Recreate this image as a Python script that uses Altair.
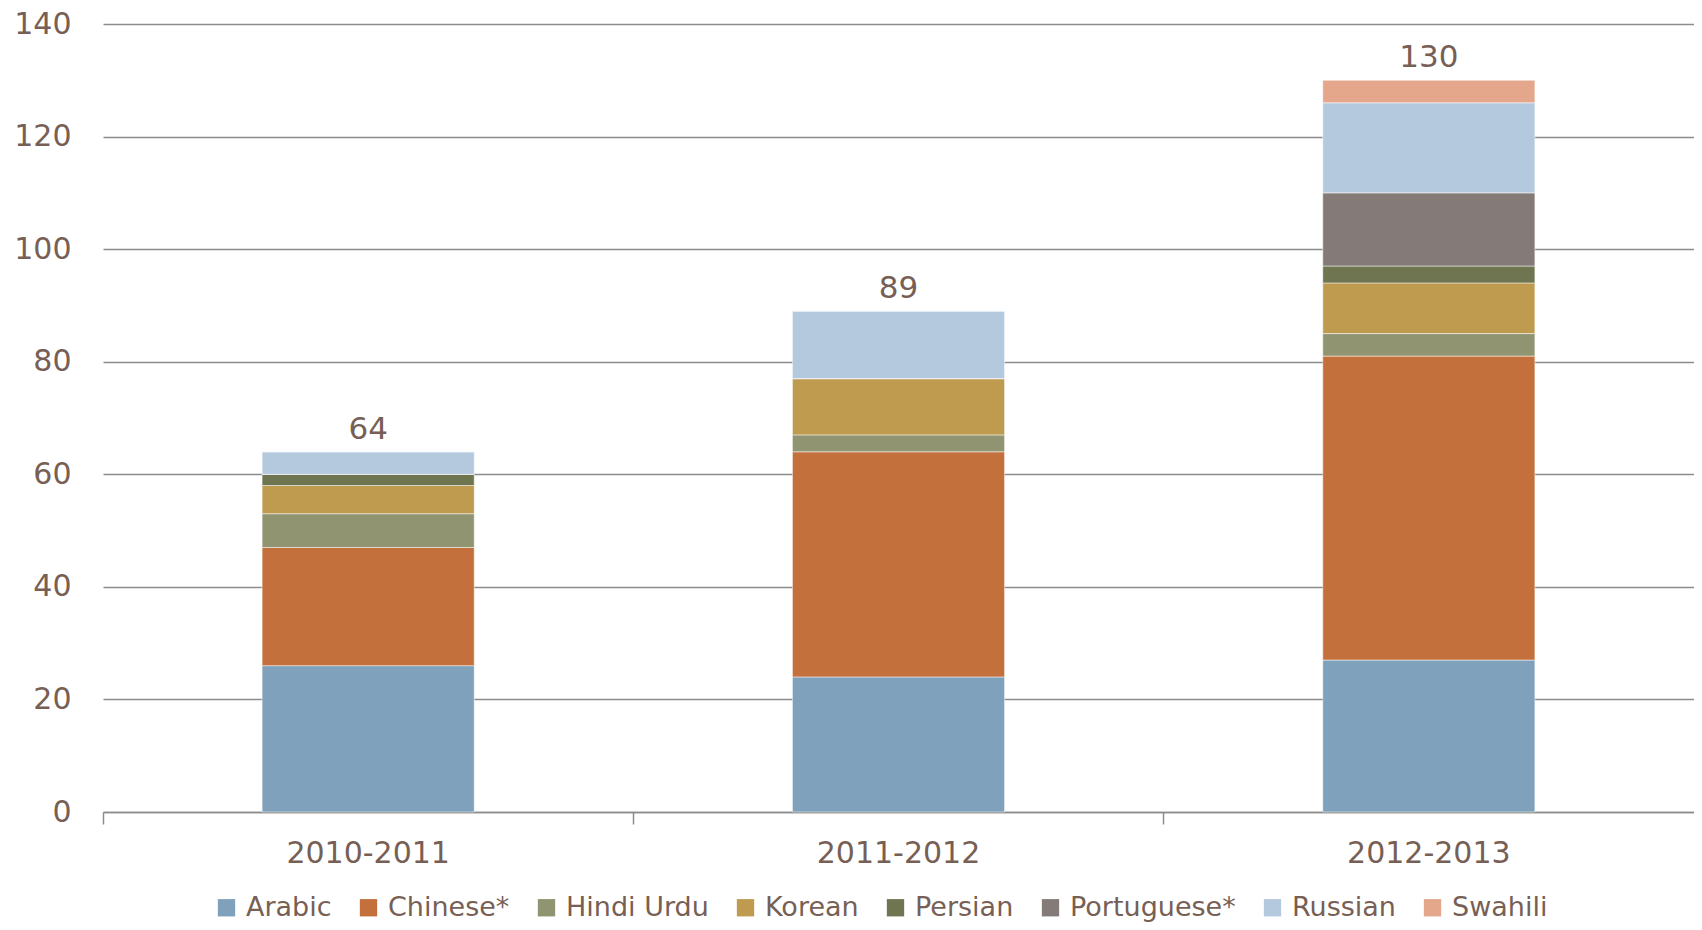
import altair as alt
import pandas as pd

years = ["2010-2011", "2011-2012", "2012-2013"]
languages = ["Arabic", "Chinese*", "Hindi Urdu", "Korean", "Persian", "Portuguese*", "Russian", "Swahili"]
colors = ["#7fa1bc", "#c4703c", "#919470", "#bf9b50", "#6f7550", "#847a78", "#b4c9dd", "#e4a78c"]

arabic = [26, 24, 27]
chinese = [21, 40, 54]
hindi_urdu = [6, 3, 4]
korean = [5, 10, 9]
persian = [2, 0, 3]
portuguese = [0, 0, 13]
russian = [4, 12, 16]
swahili = [0, 0, 4]
totals = [64, 89, 130]

series = [arabic, chinese, hindi_urdu, korean, persian, portuguese, russian, swahili]
rows = []
for li, (lang, vals) in enumerate(zip(languages, series)):
    for yr, v in zip(years, vals):
        rows.append({"Year": yr, "Language": lang, "Value": v, "order": li})
df = pd.DataFrame(rows)
tot = pd.DataFrame({"Year": years, "Total": totals})

FONT = "DejaVu Sans"
TXT = "#775f55"
GRID = "#8c8c8c"

x = alt.X("Year:N", sort=years, title=None,
          scale=alt.Scale(paddingInner=0, paddingOuter=0),
          axis=alt.Axis(labelAngle=0, labelFontSize=30, labelColor=TXT, labelFont=FONT,
                        labelPadding=14, bandPosition=0, tickSize=12, tickColor=GRID,
                        tickWidth=1.5, domainColor=GRID, domainWidth=1.5, grid=False))

bars = alt.Chart(df).mark_bar(width={"band": 0.4}, stroke="white", strokeWidth=0.5).encode(
    x=x,
    y=alt.Y("Value:Q", stack="zero", title=None,
            scale=alt.Scale(domain=[0, 140]),
            axis=alt.Axis(values=list(range(0, 141, 20)), labelFontSize=30, labelColor=TXT,
                          labelFont=FONT, labelPadding=32, domain=False, ticks=False,
                          gridColor=GRID, gridWidth=1.5)),
    color=alt.Color("Language:N", sort=languages,
                    scale=alt.Scale(domain=languages, range=colors),
                    legend=alt.Legend(orient="none", legendX=110, legendY=870,
                                      direction="horizontal", title=None,
                                      symbolType="square", symbolSize=300, symbolStrokeWidth=0,
                                      labelFontSize=27, labelColor=TXT, labelFont=FONT,
                                      labelLimit=400, columnPadding=23, labelOffset=6)),
    order=alt.Order("order:Q"),
)

labels = alt.Chart(tot).mark_text(fontSize=31, color=TXT, font=FONT, dy=-22).encode(
    x=alt.X("Year:N", sort=years),
    y=alt.Y("Total:Q"),
    text="Total:Q",
)

chart = (bars + labels).properties(
    width=1591, height=788,
    background="white",
    autosize=alt.AutoSizeParams(type="none"),
    padding={"left": 95, "top": 16, "right": 0, "bottom": 118},
).configure_view(stroke=None)

chart.save("out.html", embed_options={"renderer": "svg", "actions": False})
